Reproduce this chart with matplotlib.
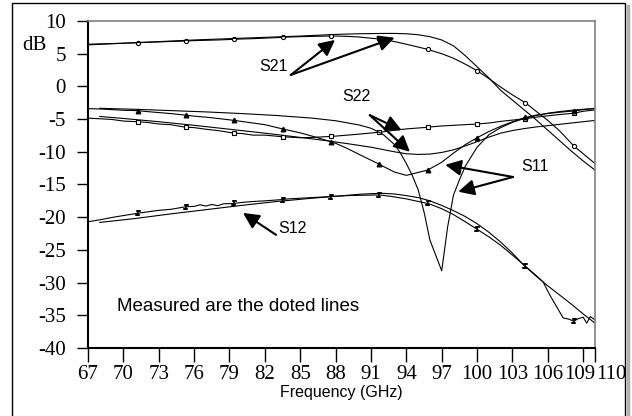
import matplotlib
matplotlib.use("Agg")
import matplotlib.pyplot as plt
import matplotlib.transforms as mtransforms
import numpy as np

plt.rcParams['axes.unicode_minus'] = False

# marker frequencies of the measured traces (GHz)
mark_freqs = [71.2, 75.3, 79.4, 83.5, 87.6, 91.7, 95.8, 100, 104.1, 108.2]

# ---- measured (doted) traces ----
f_meas = [67, 68, 69, 70, 71.2, 72, 73, 74, 75.3, 76, 77, 78, 79.4, 80, 81, 82,
          83.5, 84, 85, 86, 87.6, 88, 89, 90, 91.7, 92, 93, 94, 95.8, 96, 97, 98,
          99, 100, 101, 102, 103, 104.1, 105, 106, 107, 108.2, 109, 110]

s21_meas = [6.45, 6.5, 6.55, 6.6, 6.68, 6.75, 6.8, 6.87, 6.94, 7.0, 7.05, 7.1, 7.2, 7.25,
            7.3, 7.38, 7.5, 7.55, 7.6, 7.65, 7.7, 7.7, 7.65, 7.55, 7.25, 7.2, 6.85, 6.45,
            5.67, 5.55, 5.0, 4.3, 3.4, 2.4, 1.2, -0.1, -1.3, -2.5, -3.8, -5.2, -6.8,
            -9.1, -10.3, -11.8]

s22_meas = [-4.85, -4.95, -5.05, -5.3, -5.4, -5.5, -5.75, -5.85, -6.25, -6.3, -6.55, -6.75,
            -7.15, -7.2, -7.45, -7.45, -7.7, -7.75, -7.85, -7.8, -7.65, -7.6, -7.45, -7.3,
            -7.0, -6.95, -6.7, -6.5, -6.25, -6.2, -6.05, -5.95, -5.85, -5.75, -5.6, -5.35,
            -5.15, -4.95, -4.7, -4.5, -4.3, -4.1, -3.8, -3.6]

s11_meas = [-3.4, -3.45, -3.55, -3.65, -3.7, -3.85, -4.0, -4.15, -4.4, -4.55, -4.7, -4.9,
            -5.2, -5.35, -5.6, -5.85, -6.5, -6.7, -7.1, -7.6, -8.45, -8.7, -9.5, -10.4,
            -11.9, -12.2, -13.1, -13.6, -12.8, -12.6, -11.6, -10.2, -8.9, -7.85, -6.9,
            -6.1, -5.4, -4.75, -4.4, -4.15, -3.95, -3.75, -3.55, -3.35]

f_s12_meas = [67, 68, 69, 70, 71.2, 72, 73, 74, 75.3, 76, 76.5, 77, 77.5, 78, 78.5, 79.4,
              80, 81, 82, 83.5, 84, 85, 86, 87.6, 88, 89, 90, 91.7, 92, 93, 94, 95.8, 96,
              97, 98, 99, 100, 101, 102, 103, 104.1, 105, 105.6, 106.2, 106.75, 107.3,
              107.8, 108.2, 108.6, 109, 109.3, 109.6, 110]
s12_meas = [-20.7, -20.4, -20.05, -19.75, -19.4, -19.2, -18.95, -18.8, -18.4, -18.35, -18.1,
            -18.3, -18.05, -18.25, -17.95, -17.9, -17.75, -17.6, -17.5, -17.3, -17.2, -17.1,
            -17.0, -16.85, -16.8, -16.7, -16.65, -16.6, -16.65, -16.9, -17.2, -17.9, -18.0,
            -18.7, -19.6, -20.7, -21.85, -23.0, -24.3, -25.8, -27.5, -28.9, -29.9, -32.0,
            -33.7, -35.4, -35.6, -35.9, -35.5, -35.3, -36.2, -35.2, -35.7]

# ---- simulated traces ----
f_s21_sim = [67, 70, 73, 76, 79, 82, 85, 88, 90, 92, 93, 94, 95, 96, 97, 98, 99, 100,
             101, 102, 103, 104, 105, 106, 107, 108, 109, 110]
s21_sim = [6.35, 6.6, 6.85, 7.1, 7.3, 7.5, 7.7, 7.95, 8.05, 8.1, 8.1, 8.05, 7.9, 7.6, 7.1,
           6.2, 4.7, 3.0, 1.3, -0.6, -2.1, -3.6, -5.1, -6.7, -8.3, -9.9, -11.4, -12.8]

f_s22_sim = [68, 70, 73, 76, 79, 82, 85, 87, 89, 91, 92, 93, 94, 95, 96, 97, 98, 99, 100,
             101, 102, 103, 104, 105, 106, 107, 108, 109, 110]
s22_sim = [-4.6, -4.9, -5.4, -5.95, -6.55, -7.15, -7.8, -8.25, -8.75, -9.3, -9.65, -10.0,
           -10.3, -10.4, -10.35, -10.1, -9.7, -9.1, -8.45, -7.75, -7.15, -6.75, -6.45,
           -6.2, -6.0, -5.8, -5.6, -5.4, -5.2]

f_s11_sim = [68, 71, 74, 77, 80, 83, 86, 88, 90, 91, 92, 93, 93.5, 94, 94.5, 95, 95.5, 96,
             97, 97.5, 98, 98.5, 99, 100, 101, 102, 103, 104, 105, 106, 107, 108, 109, 110]
s11_sim = [-3.35, -3.5, -3.7, -3.9, -4.15, -4.45, -4.85, -5.25, -5.9, -6.4, -7.3, -8.9,
           -10.2, -11.8, -13.6, -15.8, -19.2, -23.5, -28.2, -21.5, -16.6, -14.3, -12.2,
           -9.3, -7.4, -6.3, -5.5, -4.9, -4.45, -4.1, -3.85, -3.65, -3.5, -3.4]

f_s12_sim = [68, 71, 74, 77, 80, 83, 86, 88, 90, 91, 92, 93, 94, 95, 96, 97, 98, 99, 100,
             101, 102, 103, 104, 105, 106, 107, 108, 109, 110]
s12_sim = [-20.8, -20.2, -19.5, -18.85, -18.2, -17.6, -17.1, -16.8, -16.5, -16.4, -16.35,
           -16.45, -16.7, -17.0, -17.5, -18.2, -19.0, -19.9, -21.0, -22.3, -23.8, -25.5,
           -27.4, -29.0, -30.5, -31.9, -33.3, -34.8, -36.2]

x_ticks = [67, 70, 73, 76, 79, 82, 85, 88, 91, 94, 97, 100, 103, 106, 109, 110]
y_ticks = [-40, -35, -30, -25, -20, -15, -10, -5, 0, 5, 10]

# annotations: label, label position, arrow tail, arrow tips
notes = [
    ("S21", (82.7, 3.0), (84.2, 1.75), [(87.95, 7.1), (93.0, 7.45)]),
    ("S22", (89.8, -1.5), (90.9, -4.4), [(93.6, -6.7), (94.3, -10.0)]),
    ("S11", (104.9, -12.3), (103.05, -13.85), [(97.3, -12.0), (98.4, -16.1)]),
    ("S12", (84.3, -21.7), (82.95, -22.7), [(80.15, -19.35)]),
]


def mark_idx(freqs):
    return [i for i, f in enumerate(freqs) if f in mark_freqs]


ibeam = [(-1, 1), (1, 1), (0, 1), (0, -1), (-1, -1), (1, -1)]

fig = plt.figure(figsize=(6.32, 4.16), dpi=100)
ax = fig.add_axes([88 / 632, 1 - 348 / 416, 507 / 632, 327 / 416])

lw = 0.8
ax.plot(f_meas, s21_meas, color='black', lw=lw, marker='o', ms=3.0, mfc='white',
        mew=0.8, markevery=mark_idx(f_meas))
ax.plot(f_meas, s22_meas, color='black', lw=lw, marker='s', ms=3.0, mfc='white',
        mew=0.8, markevery=mark_idx(f_meas))
ax.plot(f_meas, s11_meas, color='black', lw=lw, marker='^', ms=3.3,
        markevery=mark_idx(f_meas))
ax.plot(f_s12_meas, s12_meas, color='black', lw=lw, marker=ibeam, ms=3.3, mfc='none',
        mew=1.1, markevery=mark_idx(f_s12_meas))

ax.plot(f_s21_sim, s21_sim, color='black', lw=lw)
ax.plot(f_s22_sim, s22_sim, color='black', lw=lw)
ax.plot(f_s11_sim, s11_sim, color='black', lw=lw)
ax.plot(f_s12_sim, s12_sim, color='black', lw=lw)

for label, pos, tail, tips in notes:
    ax.text(pos[0], pos[1], label, fontsize=11.5, family='Liberation Sans',
            ha='center', va='center')
    for tip in tips:
        ax.annotate('', xy=tip, xytext=tail,
                    arrowprops=dict(arrowstyle='-|>,head_length=0.6,head_width=0.3',
                                    color='black', lw=1.5, mutation_scale=16,
                                    shrinkA=0, shrinkB=0))

ax.text(69.45, -33.7, "Measured are the doted lines", fontsize=13.5,
        family='Liberation Sans', ha='left', va='center')

ax.set_xlim(67, 110)
ax.set_ylim(-40, 10)
ax.set_xticks(x_ticks)
ax.set_xticklabels([str(t) for t in x_ticks])
ax.set_yticks(y_ticks)
ax.set_yticklabels([str(t) for t in y_ticks])
for t in ax.get_xticklabels() + ax.get_yticklabels():
    t.set_family('Liberation Serif')
    t.set_fontsize(15)
ax.tick_params(axis='x', direction='out', length=10, width=1, pad=2)
ax.tick_params(axis='y', direction='out', length=8, width=1, pad=8)

# the last two labels sit side by side ("109110")
xl = ax.get_xticklabels()
xl[-2].set_transform(xl[-2].get_transform() +
                     mtransforms.ScaledTranslation(-3 / 100, 0, fig.dpi_scale_trans))
xl[-1].set_ha('left')
xl[-1].set_transform(xl[-1].get_transform() +
                     mtransforms.ScaledTranslation(1 / 100, 0, fig.dpi_scale_trans))

ax.spines['left'].set_linewidth(1.5)
ax.spines['bottom'].set_linewidth(1.5)
for s in ['top', 'right']:
    ax.spines[s].set_color('#808080')
    ax.spines[s].set_linewidth(1.2)

ax.set_xlabel("Frequency (GHz)", fontsize=11.5, family='Liberation Sans', labelpad=1)
fig.text(22 / 632, 1 - 45 / 416, "dB", fontsize=15, family='Liberation Serif',
         ha='left', va='center')

# outer frame of the figure
fig.add_artist(plt.Rectangle((12 / 632, -0.05), 613 / 632, 1.05 - 3 / 416,
                             transform=fig.transFigure, fill=False, lw=1, ec='black'))
fig.add_artist(plt.Line2D([628 / 632, 628 / 632], [0, 1 - 6 / 416],
                          transform=fig.transFigure, color='#b0b0b0', lw=2.5))

fig.savefig("out.png", dpi=100)
